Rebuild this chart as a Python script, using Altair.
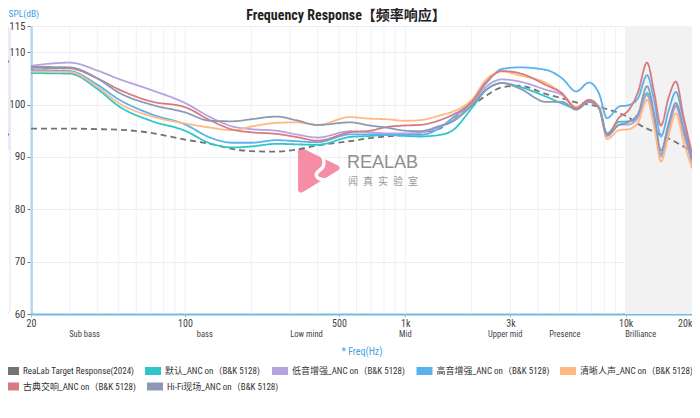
import altair as alt
import pandas as pd

FONT = "Roboto Condensed, Liberation Sans Narrow, Noto Sans CJK SC, sans-serif"
CJK = "Noto Sans CJK SC, sans-serif"

TITLE = "Frequency Response【频率响应】"

FREQS = [20, 30, 40, 50, 70, 100, 130, 165, 200, 260, 320, 400, 560, 690, 820,
         1000, 1160, 1430, 1630, 2010, 2330, 2750, 3290, 4360, 5150, 5960, 6820,
         7570, 8230, 9330, 10350, 11400, 12500, 13500, 14450, 15700, 16900, 18300, 20000]

TARGET = [95.4, 95.4, 95.3, 95.2, 94.6, 93.3, 92.5, 91.5, 91.1, 91.0, 91.4, 92.2, 93.0, 93.6, 93.9,
          94.2, 94.6, 95.4, 97.0, 99.8, 101.7, 103.3, 103.6, 102.0, 101.2, 100.4, 100.0,
          99.6, 99.1, 98.4, 97.5, 96.3, 95.4, 94.8, 94.2, 93.5, 92.8, 92.0, 91.2]
DEFAULT = [106.0, 105.9, 103.0, 99.7, 96.9, 95.0, 92.6, 91.8, 92.0, 92.5, 92.4, 92.3, 93.8, 94.0, 94.2,
           94.0, 93.9, 94.2, 95.0, 99.4, 102.8, 104.1, 103.4, 101.5, 100.2, 99.3, 100.5,
           99.6, 94.5, 96.7, 96.8, 97.8, 102.2, 97.0, 90.5, 95.8, 99.8, 94.8, 89.0]
BASS = [107.4, 108.0, 106.5, 104.9, 102.8, 100.3, 97.6, 95.8, 95.3, 95.0, 94.3, 93.7, 94.9, 94.7, 94.5,
        94.5, 94.6, 95.8, 97.0, 100.0, 103.4, 104.8, 104.4, 102.8, 101.8, 99.3, 100.7,
        99.3, 93.9, 96.1, 96.2, 97.6, 101.8, 96.5, 90.0, 95.5, 99.6, 94.5, 88.8]
TREBLE = [106.6, 106.4, 103.8, 101.0, 98.2, 96.2, 93.7, 92.7, 92.7, 93.2, 93.0, 92.8, 94.3, 94.3, 94.2,
          94.2, 94.2, 95.5, 97.4, 100.5, 104.1, 106.8, 107.1, 106.6, 105.0, 102.5, 104.2,
          102.1, 97.4, 99.6, 99.9, 101.3, 105.6, 100.5, 93.9, 99.0, 102.4, 97.0, 90.0]
VOCAL = [106.3, 106.2, 103.4, 100.3, 97.8, 96.4, 95.6, 95.1, 95.8, 96.5, 96.6, 96.1, 97.6, 97.3, 97.2,
         96.9, 97.0, 97.9, 98.6, 101.0, 104.8, 106.3, 105.6, 104.1, 102.1, 99.6, 100.9,
         99.6, 93.4, 95.1, 95.3, 96.6, 100.9, 95.5, 89.1, 94.3, 98.3, 93.0, 87.8]
CLASSIC = [107.0, 106.9, 105.0, 102.9, 100.6, 99.5, 97.0, 95.2, 94.7, 94.4, 93.8, 93.1, 94.7, 95.0, 95.7,
           96.0, 96.1, 97.0, 98.0, 100.6, 104.3, 106.4, 106.0, 103.7, 102.1, 99.3, 100.9,
           99.3, 94.2, 97.5, 99.0, 102.5, 108.0, 102.1, 96.0, 101.5, 104.4, 97.7, 90.7]
HIFI = [107.2, 107.1, 105.0, 102.3, 100.0, 98.5, 96.9, 96.8, 97.2, 97.7, 97.0, 96.1, 96.6, 96.0, 95.6,
        95.0, 94.9, 95.9, 96.7, 99.9, 102.8, 104.1, 103.1, 100.5, 100.5, 99.0, 100.5,
        99.3, 94.2, 96.1, 96.7, 98.3, 103.5, 98.0, 91.2, 96.5, 100.3, 95.5, 89.4]

SERIES = ["ReaLab Target Response(2024)", "默认_ANC on（B&K 5128)", "低音增强_ANC on（B&K 5128)",
          "高音增强_ANC on（B&K 5128)", "清晰人声_ANC on（B&K 5128)", "古典交响_ANC on（B&K 5128)",
          "Hi-Fi现场_ANC on（B&K 5128)"]
VALUES = [TARGET, DEFAULT, BASS, TREBLE, VOCAL, CLASSIC, HIFI]
COLORS = ["#737373", "#2ec7c9", "#b6a2de", "#5ab1ef", "#ffb980", "#d87a80", "#8d98b3"]

X_TICKS = [20, 100, 500, 1000, 3000, 10000, 20000]
Y_TICKS = [60, 70, 80, 90, 100, 110, 115]
REGION_NAMES = ["Sub bass", "bass", "Low mind", "Mid", "Upper mid", "Presence", "Brilliance"]
REGION_FREQS = [35, 123, 356, 1000, 2840, 5300, 11700]
BAND = [10000, 20000]
GRID_FREQS = [m * 10 ** e for e in (1, 2, 3, 4) for m in range(1, 10) if 20 <= m * 10 ** e <= 20000]

rows = []
for i, (name, vals) in enumerate(zip(SERIES, VALUES)):
    for f, v in zip(FREQS, vals):
        rows.append({"series": name, "freq": f, "db": v, "k": i})
df = pd.DataFrame(rows)

W, H = 661, 288
xs = alt.Scale(type="log", domain=[20, 20000], nice=False)
ys = alt.Scale(domain=[60, 115], nice=False, zero=False)
one = pd.DataFrame({"t": [TITLE]})

X_AXIS = alt.Axis(
    values=X_TICKS, labelExpr="datum.value >= 1000 ? (datum.value / 1000) + 'k' : datum.value + ''",
    grid=False, domainColor="#72bbe8", domainWidth=2, tickSize=3, tickColor="#bbb",
    labelColor="#444", labelFontSize=10, labelFont=FONT, labelPadding=1, labelFlush=False,
    labelAlign={"condition": {"test": "datum.value >= 20000", "value": "right"}, "value": "center"},
    title="* Freq(Hz)", titleColor="#3ea0e0", titleFontSize=10, titleFont=FONT,
    titleFontWeight="normal", titleX=W / 2, titleY=37, titleBaseline="middle", titleAlign="center")
Y_AXIS = alt.Axis(
    values=Y_TICKS, grid=True, gridColor="#eceef4", domainColor="#72bbe8", domainWidth=2,
    tickSize=4, tickColor="#777", labelColor="#444", labelFontSize=11, labelFont=FONT,
    labelPadding=2, title="SPL(dB)", titleAngle=0, titleX=-23, titleY=-13, titleAlign="left",
    titleBaseline="middle", titleColor="#3ea0e0", titleFontSize=9.5, titleFont=FONT,
    titleFontWeight="normal")

def xenc(field="freq"):
    return alt.X(f"{field}:Q", scale=xs, axis=X_AXIS)

grid = alt.Chart(pd.DataFrame({"freq": GRID_FREQS})).mark_rule(color="#eef0f5", strokeWidth=1).encode(
    x=xenc())

band = alt.Chart(pd.DataFrame({"freq": [BAND[0]], "freq2": [BAND[1]]})).mark_rect(color="#f2f2f2").encode(
    x=xenc(), x2="freq2:Q")

logo_path = "M-0.91,-0.8 Q-0.91,-1.02 -0.7,-0.93 L0.82,-0.2 Q0.98,-0.09 0.82,0.02 L-0.68,0.95 Q-0.91,1.06 -0.91,0.82 Z"
cut_path = "M0.07,-0.72 C0.27,-0.45 0.27,-0.15 0.04,0.0 C-0.2,0.15 -0.15,0.35 0.1,0.4 L0.45,0.46"
logo = alt.Chart(one).mark_point(shape=logo_path, size=2116, filled=True, color="#f4819b",
                                 opacity=0.9, strokeWidth=0).encode(x=alt.value(288), y=alt.value(144))
cut = alt.Chart(one).mark_point(shape=cut_path, size=2116, filled=False, color="white",
                                opacity=1, strokeWidth=3.5).encode(x=alt.value(288), y=alt.value(144))
wm1 = alt.Chart(one).mark_text(text="REALAB", font="Liberation Sans", fontSize=18, color="#8f8f8f",
                               align="left", baseline="middle").encode(x=alt.value(316), y=alt.value(137))
wm2 = alt.Chart(one).mark_text(text="闻\u2002真\u2002实\u2002验\u2002室", font=CJK, fontSize=10,
                               color="#9a9a9a", align="left", baseline="middle").encode(
    x=alt.value(317), y=alt.value(155.5))

lines = alt.Chart(df).mark_line(interpolate="monotone", strokeWidth=1.8).encode(
    x=xenc(),
    y=alt.Y("db:Q", scale=ys, axis=Y_AXIS),
    color=alt.Color("series:N", scale=alt.Scale(domain=SERIES, range=COLORS), legend=None),
    strokeDash=alt.condition(alt.datum.series == SERIES[0], alt.value([6, 4]), alt.value([1, 0])),
    order="k:Q",
)

regions = alt.Chart(pd.DataFrame({"freq": REGION_FREQS, "name": REGION_NAMES})).mark_text(
    font=FONT, fontSize=8.5, color="#444", baseline="middle").encode(
    x=xenc(), y=alt.value(308), text="name:N")

# legend (laid out like the reference: 5 items on the first row, 2 on the second)
LEG_X = [-28, 114, 241, 385.5, 529, -28, 116]
LEG_Y = [345, 345, 345, 345, 345, 360.5, 360.5]
legend_layers = []
for i, name in enumerate(SERIES):
    item = pd.DataFrame({"series": [name]})
    sw = alt.Chart(item).mark_rect(color=COLORS[i]).encode(
        x=alt.value(LEG_X[i]), x2=alt.value(LEG_X[i] + 16),
        y=alt.value(LEG_Y[i] - 4), y2=alt.value(LEG_Y[i] + 4))
    tx = alt.Chart(item).mark_text(font=FONT, fontSize=9, color="#333", align="left",
                                   baseline="middle").encode(
        x=alt.value(LEG_X[i] + 20), y=alt.value(LEG_Y[i]), text="series:N")
    legend_layers += [sw, tx]

slider_bg = alt.Chart(one).mark_rect(fill="white", stroke="#e4e4ee", strokeWidth=1, cornerRadius=3).encode(
    x=alt.value(-29), x2=alt.value(-21), y=alt.value(1), y2=alt.value(287))
slider_fill = alt.Chart(one).mark_rect(fill="#eeebf8", stroke="#e4e4ee", strokeWidth=1).encode(
    x=alt.value(-29), x2=alt.value(-21), y=alt.value(3), y2=alt.value(123))
h1 = alt.Chart(one).mark_rule(color="#2f8fd6", strokeWidth=2).encode(
    x=alt.value(-28), x2=alt.value(-22), y=alt.value(35.5))
h2 = alt.Chart(one).mark_rule(color="#2f8fd6", strokeWidth=2).encode(
    x=alt.value(-28), x2=alt.value(-22), y=alt.value(108.5))

title = alt.Chart(one).mark_text(font=FONT, fontSize=14, fontWeight="bold", color="#222",
                                 baseline="middle").encode(
    x=alt.value(315), y=alt.value(-10.5), text="t:N")

chart = alt.layer(grid, band, logo, cut, wm1, wm2, lines, regions, *legend_layers,
                  slider_bg, slider_fill, h1, h2, title).properties(
    width=W, height=H,
    autosize=alt.AutoSizeParams(type="none"),
    padding={"left": 23, "top": 18, "right": 0, "bottom": 82},
).configure_view(stroke=None)

chart.save("out.html", embed_options={"renderer": "svg", "actions": False})
